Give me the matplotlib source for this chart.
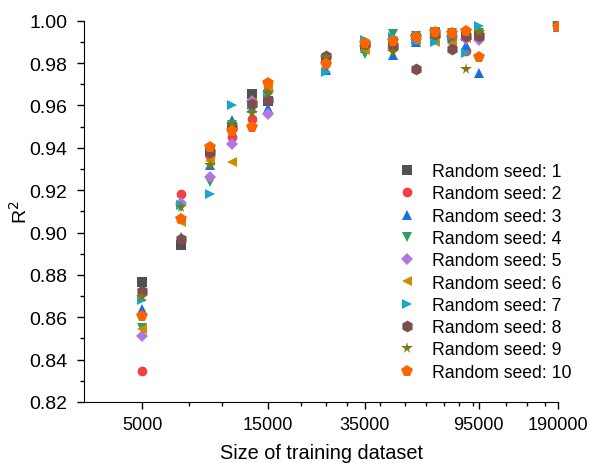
import matplotlib
matplotlib.use("Agg")
import matplotlib.pyplot as plt
from matplotlib.ticker import FixedLocator, NullFormatter, FixedFormatter

plt.rcParams["font.family"] = ["Liberation Sans", "DejaVu Sans"]

# ---------- data ----------
sizes = [5000, 7000, 9000, 11000, 13000, 15000, 25000, 35000, 45000,
         55000, 65000, 75000, 85000, 95000, 190000]

seed1 = [0.8765, 0.894, 0.938, 0.950, 0.9655, 0.962, 0.982, 0.988, 0.990, 0.992, 0.994, 0.993, 0.993, 0.993, 0.998]
seed2 = [0.8344, 0.918, 0.936, 0.945, 0.9535, 0.9675, 0.980, 0.989, 0.989, 0.992, 0.993, 0.992, 0.9855, 0.994, 0.998]
seed3 = [0.8637, 0.898, 0.932, 0.953, 0.959, 0.959, 0.9765, 0.987, 0.984, 0.990, 0.993, 0.992, 0.9885, 0.9755, 0.997]
seed4 = [0.855, 0.912, 0.924, 0.951, 0.958, 0.968, 0.981, 0.9845, 0.9935, 0.993, 0.9945, 0.994, 0.993, 0.994, 0.998]
seed5 = [0.8511, 0.914, 0.926, 0.942, 0.962, 0.956, 0.983, 0.988, 0.987, 0.9915, 0.992, 0.993, 0.9915, 0.991, 0.9995]
seed6 = [0.8545, 0.905, 0.934, 0.9335, 0.961, 0.9685, 0.981, 0.986, 0.990, 0.991, 0.990, 0.989, 0.992, 0.993, 0.998]
seed7 = [0.868, 0.913, 0.918, 0.960, 0.960, 0.9655, 0.9757, 0.991, 0.9925, 0.991, 0.990, 0.993, 0.9848, 0.9975, 0.998]
seed8 = [0.8722, 0.897, 0.938, 0.950, 0.9607, 0.9625, 0.9835, 0.989, 0.988, 0.977, 0.9935, 0.9865, 0.993, 0.993, 0.998]
seed9 = [0.8695, 0.912, 0.932, 0.951, 0.9565, 0.966, 0.983, 0.988, 0.985, 0.992, 0.993, 0.992, 0.977, 0.9945, 0.998]
seed10 = [0.8606, 0.9065, 0.9405, 0.948, 0.950, 0.9705, 0.9795, 0.9895, 0.9905, 0.9925, 0.9945, 0.994, 0.995, 0.9828, 0.997]

all_seeds = [seed1, seed2, seed3, seed4, seed5, seed6, seed7, seed8, seed9, seed10]
labels = ["Random seed: %d" % (i + 1) for i in range(10)]
markers = ["s", "o", "^", "v", "D", "<", ">", "h", "*", "p"]
colors = ["#515151", "#F14040", "#1A6FDF", "#2E9E5E", "#B177DE",
          "#CC8E00", "#1AA6C6", "#7D4E4E", "#7A7A12", "#FB6501"]

x_major = [5000, 15000, 35000, 95000, 190000]
x_minor = [7500, 10000, 20000, 25000, 30000, 40000, 50000, 60000, 70000,
           80000, 90000, 120000, 145000, 170000]

# ---------- plot ----------
fig = plt.figure(figsize=(5.89, 4.64), dpi=100)
ax = fig.add_axes([0.1426, 0.1315, 0.8048, 0.8217])

for vals, lab, m, c in zip(all_seeds, labels, markers, colors):
    ms = 8.5 if m in ("*", "h", "p") else 7
    if m == "D":
        ms = 6
    ax.plot(sizes, vals, linestyle="none", marker=m, color=c,
            markersize=ms, markeredgewidth=0, label=lab)

ax.set_xscale("log")
ax.set_xlim(3000, 190000)
ax.set_ylim(0.82, 1.00)

ax.xaxis.set_major_locator(FixedLocator(x_major))
ax.xaxis.set_major_formatter(FixedFormatter([str(v) for v in x_major]))
ax.xaxis.set_minor_locator(FixedLocator(x_minor))
ax.xaxis.set_minor_formatter(NullFormatter())

yt = [0.82 + 0.02 * i for i in range(10)]
ax.set_yticks(yt)
ax.set_yticklabels(["%.2f" % v for v in yt])
ax.set_yticks([0.83 + 0.02 * i for i in range(9)], minor=True)

ax.spines["top"].set_visible(False)
ax.spines["right"].set_visible(False)
ax.tick_params(which="major", direction="out", length=5, width=1,
               labelsize=13, pad=5)
ax.tick_params(axis="y", which="major", labelsize=14, pad=7)
ax.tick_params(which="minor", direction="out", length=3, width=1)

ax.set_xlabel("Size of training dataset", fontsize=14.3, labelpad=7)
ax.set_ylabel("R$^2$", fontsize=14, labelpad=-1)

ax.legend(loc="upper left", bbox_to_anchor=(0.648, 0.645), frameon=False,
          fontsize=12.7, handletextpad=0.9, labelspacing=0.3,
          handlelength=1.0, borderaxespad=0)

fig.savefig("out.png", dpi=100)
